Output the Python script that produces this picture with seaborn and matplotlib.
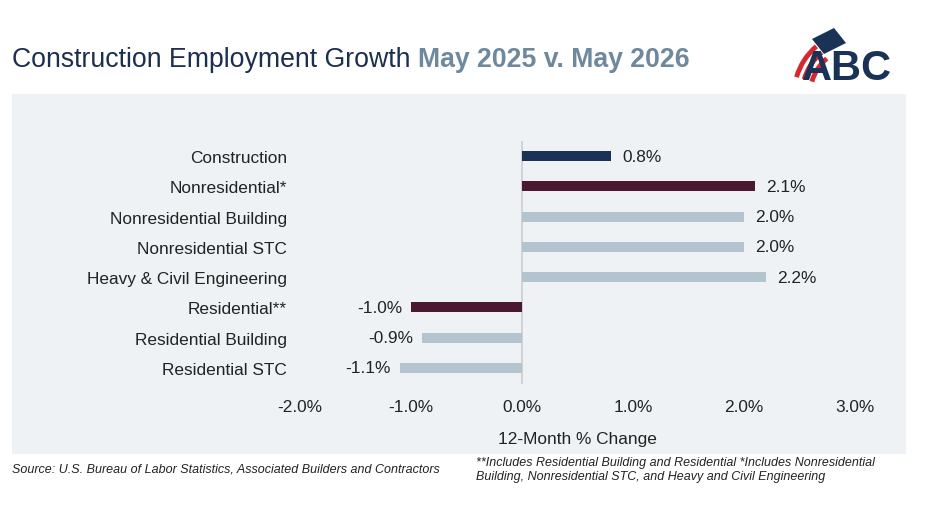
import numpy as np
import pandas as pd
import matplotlib
matplotlib.use("Agg")
import matplotlib.pyplot as plt
import seaborn as sns
from matplotlib.patches import Rectangle, Arc, Polygon

# data
categories = ["Construction", "Nonresidential*", "Nonresidential Building",
              "Nonresidential STC", "Heavy & Civil Engineering", "Residential**",
              "Residential Building", "Residential STC"]
changes = [0.8, 2.1, 2.0, 2.0, 2.2, -1.0, -0.9, -1.1]
x_ticks = [-2.0, -1.0, 0.0, 1.0, 2.0, 3.0]

NAVY = "#1b3257"
MAROON = "#4a1831"
STEEL = "#b4c4cf"
bar_colors = [NAVY, MAROON, STEEL, STEEL, STEEL, MAROON, STEEL, STEEL]
FS = 12.4

sns.set_theme(style="white")
plt.rcParams['font.family'] = ['Liberation Sans', 'DejaVu Sans']

df = pd.DataFrame({"category": categories, "change": changes})

fig = plt.figure(figsize=(9.36, 5.10), dpi=100)
fig.patch.set_facecolor("white")

# light panel behind chart
fig.patches.append(Rectangle((12 / 936, 1 - 455 / 510), 894 / 936, 360 / 510,
                             transform=fig.transFigure, facecolor="#eef2f5",
                             edgecolor="none", zorder=-5))

ax = fig.add_axes([300 / 936, 1 - 385 / 510, 555 / 936, 243 / 510])
ax.set_facecolor("none")
ax.patch.set_alpha(0)
sns.barplot(data=df, y="category", x="change", hue="category",
            palette=bar_colors, orient="h", width=0.33, legend=False,
            saturation=1, linewidth=0, ax=ax)

ax.axvline(0, color="#c9cdd1", lw=1.2, zorder=0)
ax.set_xlim(-2, 3)
ax.set_ylim(7.53, -0.5)
ax.set_xticks(x_ticks)
ax.set_xticklabels([f"{t:.1f}%" for t in x_ticks], fontsize=FS, color="#222222")
ax.tick_params(axis="x", pad=11, length=0)
ax.tick_params(axis="y", pad=9.5, length=0, labelsize=FS, labelcolor="#222222")
ax.set_ylabel("")
ax.set_xlabel("12-Month % Change", fontsize=FS, color="#222222", labelpad=12)
for s in ax.spines.values():
    s.set_visible(False)
ax.grid(False)

for i, v in enumerate(changes):
    if v >= 0:
        ax.text(v + 0.1, i, f"{v:.1f}%", va="center", ha="left",
                fontsize=FS, color="#222222")
    else:
        ax.text(v - 0.08, i, f"{v:.1f}%", va="center", ha="right",
                fontsize=FS, color="#222222")

# title
t1 = fig.text(12 / 936, 1 - 60 / 510, "Construction Employment Growth ",
              fontsize=19.2, color="#1b2f4f", va="center", ha="left")
fig.canvas.draw()
bb = t1.get_window_extent()
fig.text(bb.x1 / 936, 1 - 60 / 510, "May 2025 v. May 2026", fontsize=19.2,
         fontweight="bold", color="#6e889e", va="center", ha="left")

# logo (rough approximation of the ABC mark)
for r in [48, 56, 64]:
    fig.patches.append(Arc((858 / 936, 1 - 96 / 510), 2 * r / 936, 2 * r / 510,
                           theta1=115, theta2=152, transform=fig.transFigure,
                           color="#d7282f", lw=3.5, zorder=1))
fig.patches.append(Polygon([(812 / 936, 1 - 40 / 510), (834 / 936, 1 - 29 / 510),
                            (846 / 936, 1 - 44 / 510), (824 / 936, 1 - 55 / 510)],
                           closed=True, transform=fig.transFigure,
                           facecolor=NAVY, edgecolor="none", zorder=1))
fig.text(847 / 936, 1 - 69 / 510, "ABC", fontsize=30, fontweight="bold",
         color=NAVY, ha="center", va="center", zorder=3)

# footer notes
fig.text(12 / 936, 1 - 470 / 510,
         "Source: U.S. Bureau of Labor Statistics, Associated Builders and Contractors",
         fontsize=9, fontstyle="italic", color="#222222", va="center", ha="left")
fig.text(476 / 936, 1 - 470 / 510,
         "**Includes Residential Building and Residential *Includes Nonresidential\n"
         "Building, Nonresidential STC, and Heavy and Civil Engineering",
         fontsize=9, fontstyle="italic", color="#222222", va="center", ha="left",
         linespacing=1.25)

fig.savefig("out.png", dpi=100)
